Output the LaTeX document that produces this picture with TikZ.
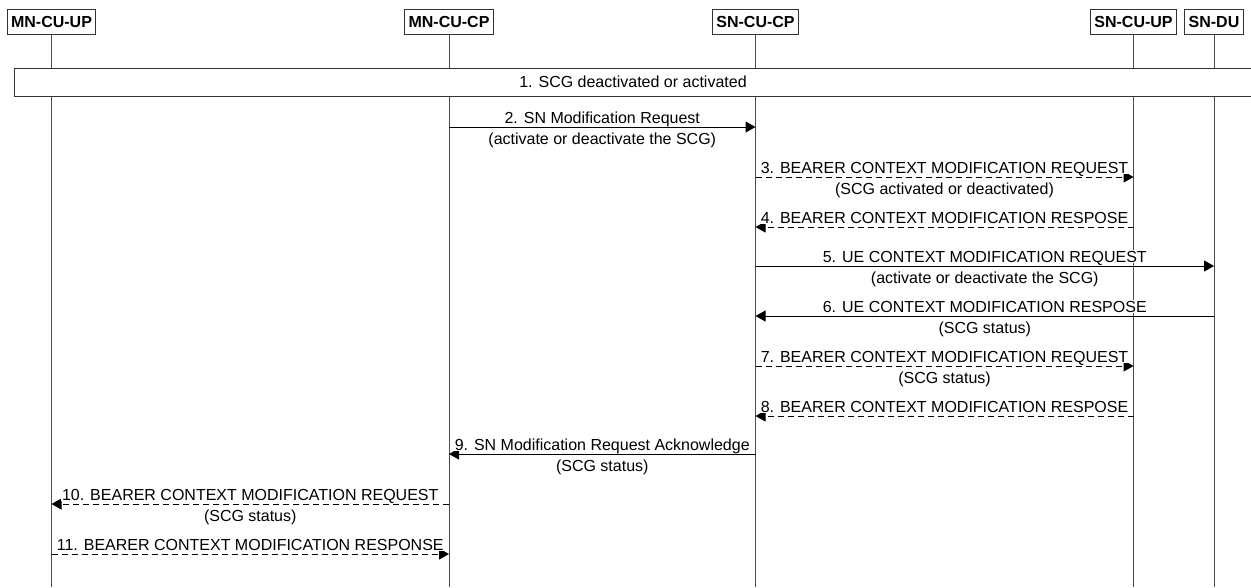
\documentclass[tikz,border=0pt]{standalone}
\usepackage{fontspec}
\setmainfont{Liberation Sans}
\usetikzlibrary{arrows.meta}

\begin{document}
\begin{tikzpicture}[x=0.75pt,y=-0.75pt,
		every node/.style={font=\fontsize{12}{14}\selectfont},
		entity/.style={draw=black!80,line width=0.75pt,font=\fontsize{12}{14}\selectfont\bfseries,minimum height=18.75pt,inner xsep=3pt,inner ysep=0pt},
		life/.style={draw=black!70,line width=0.75pt},
		msg/.style={line width=0.75pt,-{Triangle[length=7.5pt,width=8.25pt]}},
		dmsg/.style={msg,dash pattern=on 4.5pt off 3pt},
		lbl/.style={fill=white,inner sep=0.5pt,text height=8.6pt,text depth=0pt}]
	\useasboundingbox (0,0) rectangle (1251,587);
	% entities
	\node[entity] (mnup) at (51.5,21.5) {MN-CU-UP};
	\node[entity] (mncp) at (449,21.5) {MN-CU-CP};
	\node[entity] (sncp) at (755.5,21.5) {SN-CU-CP};
	\node[entity] (snup) at (1133.5,21.5) {SN-CU-UP};
	\node[entity] (sndu) at (1214,21.5) {SN-DU};
	\foreach \e in {mnup,mncp,sncp,snup,sndu}
		\draw[life] (\e.south) -- (\e.south |- 0,587);
	% step 1
	\node[draw=black!80,line width=0.75pt,fill=white,minimum width=928.5pt,minimum height=21pt,inner sep=0pt] (scg) at (633,82) {1. SCG deactivated or activated};
	% messages
	\draw[msg] (mncp |- 0,127) -- node[lbl,above=2pt]{2. SN Modification Request} node[lbl,below=3.5pt]{(activate or deactivate the SCG)} (sncp |- 0,127);
	\draw[dmsg] (sncp |- 0,177) -- node[lbl,above=2pt]{3. BEARER CONTEXT MODIFICATION REQUEST} node[lbl,below=3.5pt]{(SCG activated or deactivated)} (snup |- 0,177);
	\draw[dmsg] (snup |- 0,227) -- node[lbl,above=2pt]{4. BEARER CONTEXT MODIFICATION RESPOSE} (sncp |- 0,227);
	\draw[msg] (sncp |- 0,266) -- node[lbl,above=2pt]{5. UE CONTEXT MODIFICATION REQUEST} node[lbl,below=3.5pt]{(activate or deactivate the SCG)} (sndu |- 0,266);
	\draw[msg] (sndu |- 0,316) -- node[lbl,above=2pt]{6. UE CONTEXT MODIFICATION RESPOSE} node[lbl,below=3.5pt]{(SCG status)} (sncp |- 0,316);
	\draw[dmsg] (sncp |- 0,366) -- node[lbl,above=2pt]{7. BEARER CONTEXT MODIFICATION REQUEST} node[lbl,below=3.5pt]{(SCG status)} (snup |- 0,366);
	\draw[dmsg] (snup |- 0,416) -- node[lbl,above=2pt]{8. BEARER CONTEXT MODIFICATION RESPOSE} (sncp |- 0,416);
	\draw[msg] (sncp |- 0,454) -- node[lbl,above=2pt]{9. SN Modification Request Acknowledge} node[lbl,below=3.5pt]{(SCG status)} (mncp |- 0,454);
	\draw[dmsg] (mncp |- 0,504) -- node[lbl,above=2pt]{10. BEARER CONTEXT MODIFICATION REQUEST} node[lbl,below=3.5pt]{(SCG status)} (mnup |- 0,504);
	\draw[dmsg] (mnup |- 0,554) -- node[lbl,above=2pt]{11. BEARER CONTEXT MODIFICATION RESPONSE} (mncp |- 0,554);
\end{tikzpicture}
\end{document}
